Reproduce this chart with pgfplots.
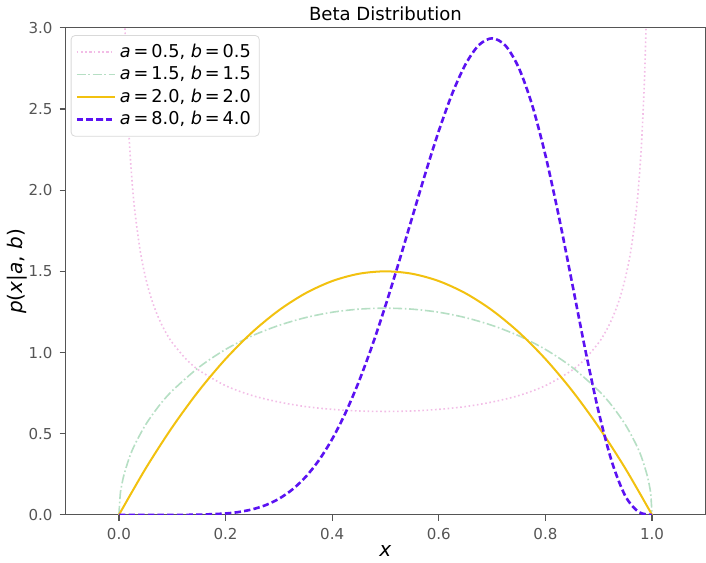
\documentclass[border=0pt]{standalone}
\usepackage{fontspec}
\setmainfont{DejaVu Sans}
\usepackage{pgfplots}
\pgfplotsset{compat=1.18}

\definecolor{arcpink}{HTML}{F2BDE6}
\definecolor{softgreen}{HTML}{B6DFC4}
\definecolor{gold}{HTML}{F2C10F}
\definecolor{violetblue}{HTML}{5B12F2}
\definecolor{spine}{HTML}{555555}

\begin{document}
\begin{tikzpicture}
\begin{axis}[
    scale only axis,
    width=318.5pt, height=242.5pt,
    xmin=-0.1, xmax=1.1, ymin=0, ymax=3,
    xtick={0,0.2,0.4,0.6,0.8,1.0},
    ytick={0,0.5,1.0,1.5,2.0,2.5,3.0},
    tick align=outside, tick pos=left,
    major tick length=3pt,
    axis line style={spine, line width=0.6pt},
    tick style={spine, line width=0.6pt},
    ticklabel style={font=\fontsize{7.5}{9}\selectfont, text=spine},
    /pgf/number format/assume math mode=true,
    /pgf/number format/.cd, fixed, fixed zerofill, precision=1, /pgfplots/.cd,
    title={Beta Distribution},
    title style={font=\fontsize{9}{11}\selectfont, yshift=-6pt},
    xlabel={\textit{x}},
    ylabel={\textit{p}(\textit{x}|\textit{a}, \textit{b})},
    xlabel style={font=\fontsize{10}{12}\selectfont, yshift=4pt},
    ylabel style={font=\fontsize{10}{12}\selectfont, yshift=-6pt},
    legend cell align=left,
    legend style={at={(rel axis cs:0.008,0.985)}, anchor=north west,
        font=\fontsize{8.8}{11}\selectfont, draw=black!15, rounded corners=2pt,
        inner sep=2.2pt, row sep=-1pt},
    legend image post style={xscale=1.1},
    clip=true,
]
% a=0.5, b=0.5
\addplot[arcpink, line width=0.8pt, dash pattern=on 0.8pt off 1.3pt, smooth] coordinates {
 (0.0025,6.374) (0.005,4.513) (0.0075,3.689) (0.01,3.199) (0.0125,2.865) (0.015,2.619)
 (0.02,2.274) (0.025,2.039) (0.03,1.866) (0.04,1.624) (0.05,1.461) (0.06,1.340)
 (0.07,1.248) (0.08,1.173) (0.09,1.112) (0.1,1.061) (0.125,0.963) (0.15,0.891)
 (0.2,0.796) (0.25,0.735) (0.3,0.695) (0.35,0.667) (0.4,0.650) (0.45,0.640)
 (0.5,0.637) (0.55,0.640) (0.6,0.650) (0.65,0.667) (0.7,0.695) (0.75,0.735)
 (0.8,0.796) (0.85,0.891) (0.875,0.963) (0.9,1.061) (0.91,1.112) (0.92,1.173)
 (0.93,1.248) (0.94,1.340) (0.95,1.461) (0.96,1.624) (0.97,1.866) (0.975,2.039)
 (0.98,2.274) (0.985,2.619) (0.9875,2.865) (0.99,3.199) (0.9925,3.689) (0.995,4.513)
 (0.9975,6.374)
};
\addlegendentry{\textit{a}\,=\,0.5, \textit{b}\,=\,0.5}
% a=1.5, b=1.5
\addplot[softgreen, line width=0.8pt, dash pattern=on 4.5pt off 1.3pt on 0.8pt off 1.3pt, smooth] coordinates {
 (0,0) (0.0025,0.127) (0.005,0.180) (0.01,0.253) (0.02,0.357) (0.03,0.434)
 (0.05,0.555) (0.075,0.671) (0.1,0.764) (0.15,0.909) (0.2,1.019) (0.25,1.103)
 (0.3,1.167) (0.35,1.215) (0.4,1.248) (0.45,1.267) (0.5,1.273) (0.55,1.267)
 (0.6,1.248) (0.65,1.215) (0.7,1.167) (0.75,1.103) (0.8,1.019) (0.85,0.909)
 (0.9,0.764) (0.925,0.671) (0.95,0.555) (0.97,0.434) (0.98,0.357) (0.99,0.253)
 (0.995,0.180) (0.9975,0.127) (1,0)
};
\addlegendentry{\textit{a}\,=\,1.5, \textit{b}\,=\,1.5}
% a=2, b=2
\addplot[gold, line width=1pt, smooth] coordinates {
 (0,0) (0.05,0.285) (0.1,0.54) (0.15,0.765) (0.2,0.96) (0.25,1.125) (0.3,1.26)
 (0.35,1.365) (0.4,1.44) (0.45,1.485) (0.5,1.5) (0.55,1.485) (0.6,1.44)
 (0.65,1.365) (0.7,1.26) (0.75,1.125) (0.8,0.96) (0.85,0.765) (0.9,0.54)
 (0.95,0.285) (1,0)
};
\addlegendentry{\textit{a}\,=\,2.0, \textit{b}\,=\,2.0}
% a=8, b=4
\addplot[violetblue, line width=1.3pt, dash pattern=on 3.2pt off 1.6pt, smooth] coordinates {
 (0,0) (0.05,0.0000) (0.1,0.0001) (0.15,0.0014) (0.2,0.0087) (0.225,0.0179)
 (0.25,0.0340) (0.275,0.0598) (0.3,0.0990) (0.325,0.1555) (0.35,0.2332)
 (0.375,0.3361) (0.4,0.4671) (0.425,0.6285) (0.45,0.8206) (0.475,1.0421)
 (0.5,1.2891) (0.525,1.5551) (0.55,1.8313) (0.575,2.1058) (0.6,2.3649)
 (0.625,2.5932) (0.65,2.7744) (0.675,2.8930) (0.7,2.9351) (0.725,2.8903)
 (0.75,2.7531) (0.775,2.5249) (0.8,2.2146) (0.825,1.8402) (0.85,1.4282)
 (0.875,1.0124) (0.9,0.6314) (0.925,0.3227) (0.95,0.1152) (0.975,0.0173) (1,0)
};
\addlegendentry{\textit{a}\,=\,8.0, \textit{b}\,=\,4.0}
\end{axis}
\end{tikzpicture}
\end{document}
